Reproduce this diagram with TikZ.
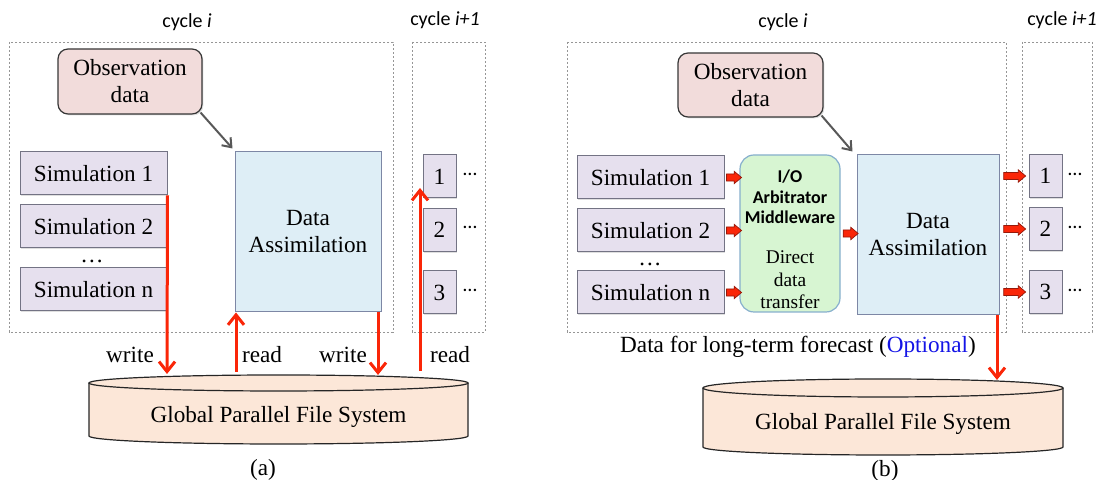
\documentclass[tikz,border=0pt]{standalone}
\usepackage{fontspec}
\setmainfont{Liberation Serif}
\newfontfamily\calibfont{Carlito}
\usetikzlibrary{arrows.meta,shapes.arrows,calc,shadows}

\definecolor{simfill}{RGB}{230,224,238}
\definecolor{simdraw}{RGB}{115,115,132}
\definecolor{obsfill}{RGB}{242,220,219}
\definecolor{obsdraw}{RGB}{55,55,55}
\definecolor{dafill}{RGB}{222,238,246}
\definecolor{dadraw}{RGB}{125,135,165}
\definecolor{mwfill}{RGB}{215,245,210}
\definecolor{mwdraw}{RGB}{135,175,205}
\definecolor{fsfill}{RGB}{252,231,216}
\definecolor{flowred}{RGB}{250,38,8}
\definecolor{flowdark}{RGB}{150,25,10}
\definecolor{cyclegray}{RGB}{150,150,150}
\definecolor{optblue}{RGB}{20,20,230}
\definecolor{obsarrow}{RGB}{88,88,88}

\begin{document}
\begin{tikzpicture}[x=0.5pt,y=0.5pt,
  font=\fontsize{11.6}{13.5}\selectfont,
  simbox/.style={draw=simdraw, fill=simfill, line width=0.5pt, inner sep=0pt,
    minimum width=73.5pt, minimum height=21.5pt,
    drop shadow={shadow xshift=0.7pt, shadow yshift=-0.7pt, opacity=0.25}},
  numbox/.style={simbox, minimum width=16.5pt, minimum height=21.5pt},
  obsbox/.style={draw=obsdraw, fill=obsfill, line width=0.6pt, rounded corners=5pt,
    inner sep=0pt, minimum width=72pt, minimum height=32.5pt, align=center,
    drop shadow={shadow xshift=0.7pt, shadow yshift=-0.7pt, opacity=0.25}},
  dabox/.style={draw=dadraw, fill=dafill, line width=0.5pt, inner sep=0pt,
    minimum width=73pt, minimum height=80pt, align=center},
  mwbox/.style={draw=mwdraw, fill=mwfill, line width=0.6pt, rounded corners=7pt,
    inner sep=0pt, minimum width=50pt, minimum height=78.5pt},
  cyclebox/.style={draw=cyclegray, line width=0.4pt, dash pattern=on 1.2pt off 0.8pt},
  cyclelabel/.style={font=\calibfont\fontsize{10}{12}\selectfont, anchor=base},
  more/.style={font=\calibfont\fontsize{10}{12}\selectfont, inner sep=0pt},
  flow/.style={draw=flowred, line width=1.5pt, -{Straight Barb[length=5pt,width=8pt]}},
  obsflow/.style={draw=obsarrow, line width=1pt, -{Straight Barb[length=4pt,width=6pt]}},
  barrow/.style={single arrow, draw=flowdark, fill=flowred, line width=0.35pt,
    inner sep=0pt, inner ysep=1.6pt, minimum height=7.5pt,
    single arrow head extend=1.3pt, single arrow tip angle=80},
  fsbody/.style={fill=fsfill, draw=black!85, line width=0.6pt},
]
\useasboundingbox (0,0) rectangle (1099,480);

% ---------------- (a) file-based coupling ----------------
\node[cyclelabel] (cycAi) at (187,452) {cycle \textit{i}};
\node[cyclelabel] (cycAn) at (445,454) {cycle \textit{i+1}};
\draw[cyclebox] (9,438) rectangle (393,148);
\draw[cyclebox] (412,438) rectangle (485,148);

\node[obsbox] (obsA) at (130,398.5) {Observation\\data};
\node[dabox] (daA) at (308,248) {Data\\Assimilation};

\node[simbox] (simA1) at (93.5,306.5) {Simulation 1};
\node[simbox] (simA2) at (93.5,253.5) {Simulation 2};
\node[anchor=base] (dotsA) at (92,217) {…};
\node[simbox] (simAn) at (93.5,190.5) {Simulation n};

\node[numbox] (nA1) at (439.5,303.5) {1};
\node[numbox] (nA2) at (439.5,250) {2};
\node[numbox] (nA3) at (439.5,187.5) {3};
\node[more] (mA1) at (470,306) {…};
\node[more] (mA2) at (470,253) {…};
\node[more] (mA3) at (470,190) {…};

% file system cylinder
\path[fsbody] (89,97) -- (89,44)
  arc[start angle=180, end angle=360, x radius=189.5, y radius=8] -- (468,97);
\draw[fsbody] (278.5,97) ellipse[x radius=189.5, y radius=8];
\node (fsA) at (278.5,63) {Global Parallel File System};

\coordinate (fsAw1) at (167,106);
\coordinate (fsAr1) at (236,108);
\coordinate (fsAw2) at (378,105);
\coordinate (fsAr2) at (420,109);
\coordinate (rdA)   at (420,292);

\draw[obsflow] (obsA.south east) ++(-2,2) -- ($(daA.north west)+(-2,3)$);
\draw[flow] (simA1.south east) -- (fsAw1);
\draw[flow] (fsAr1) -- (fsAr1 |- daA.south);
\draw[flow] (fsAw2 |- daA.south) -- (fsAw2);
\draw[flow] (fsAr2) -- (rdA);

\node (lwA1) at (130,125) {write};
\node (lrA1) at (262,125) {read};
\node (lwA2) at (343,125) {write};
\node (lrA2) at (450,125) {read};

\node (capA) at (263,10) {(a)};

% ---------------- (b) direct transfer through middleware ----------------
\node[cyclelabel] (cycBi) at (783,452) {cycle \textit{i}};
\node[cyclelabel] (cycBn) at (1062,454) {cycle \textit{i+1}};
\draw[cyclebox] (567,438) rectangle (1006,148);
\draw[cyclebox] (1022,438) rectangle (1092,148);

\node[obsbox, minimum width=72.5pt, minimum height=32pt] (obsB) at (750.5,395) {Observation\\data};
\node[dabox, minimum width=71pt] (daB) at (928,245) {Data\\Assimilation};
\node[mwbox] (mw) at (790,246.5) {};
\node[align=center, inner sep=0pt, font=\calibfont\bfseries\fontsize{9}{10.3}\selectfont]
  (mwtop) at (790,283) {I/O\\Arbitrator\\Middleware};
\node[align=center, inner sep=0pt, font=\fontsize{9.7}{11.2}\selectfont]
  (mwbot) at (790,200) {Direct\\data\\transfer};

\node[simbox] (simB1) at (650.5,302.5) {Simulation 1};
\node[simbox] (simB2) at (650.5,249.5) {Simulation 2};
\node[anchor=base] (dotsB) at (650,214) {…};
\node[simbox] (simBn) at (650.5,187.5) {Simulation n};

\node[numbox] (nB1) at (1045.5,304) {1};
\node[numbox] (nB2) at (1045.5,251) {2};
\node[numbox] (nB3) at (1045.5,188) {3};
\node[more] (mB1) at (1075,306) {…};
\node[more] (mB2) at (1075,253) {…};
\node[more] (mB3) at (1075,190) {…};

\draw[obsflow] (obsB.south east) ++(-2,2) -- ($(daB.north west)+(-4,3)$);

\path (simB1.east) -- (simB1.east -| mw.west) node[midway, barrow] (bs1) {};
\path (simB2.east) -- (simB2.east -| mw.west) node[midway, barrow] (bs2) {};
\path (simBn.east) -- (simBn.east -| mw.west) node[midway, barrow] (bsn) {};
\path (mw.east) -- (mw.east -| daB.west) node[midway, barrow] (bmd) {};
\path (daB.east |- nB1.west) -- (nB1.west) node[pos=0.45, barrow, minimum height=11pt] (bd1) {};
\path (daB.east |- nB2.west) -- (nB2.west) node[pos=0.45, barrow, minimum height=11pt] (bd2) {};
\path (daB.east |- nB3.west) -- (nB3.west) node[pos=0.45, barrow, minimum height=11pt] (bd3) {};

% file system cylinder
\path[fsbody] (703,92) -- (703,33)
  arc[start angle=180, end angle=360, x radius=180, y radius=8] -- (1063,92);
\draw[fsbody] (883,92) ellipse[x radius=180, y radius=9];
\node (fsB) at (883,56) {Global Parallel File System};

\coordinate (fsBw) at (997,100);
\draw[flow] (fsBw |- daB.south) -- (fsBw);

\node (forecast) at (798,133) {Data for long-term forecast (\textcolor{optblue}{Optional})};
\node (capB) at (885,9) {(b)};
\end{tikzpicture}
\end{document}
